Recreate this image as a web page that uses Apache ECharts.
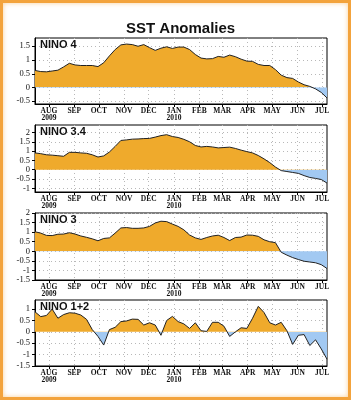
<!DOCTYPE html>
<html>
<head>
<meta charset="utf-8">
<title>SST Anomalies</title>
<style>
  html, body { margin: 0; padding: 0; background: #fff; }
  #container { width: 353px; height: 403px; }
  #frame {
    position: absolute; left: 0; top: 0; width: 351px; height: 400px;
    box-sizing: border-box; border: 3px solid #F3A33C;
    box-shadow: inset 0 0 5px rgba(245, 170, 70, 0.55);
    pointer-events: none;
  }
</style>
</head>
<body>
<div id="container"></div>
<div id="frame"></div>
<script src="https://cdn.jsdelivr.net/npm/echarts@6.0.0/dist/echarts.min.js"></script>
<script>
// weekly values, centred on Wednesdays
var weeks = [
  '2009-07-15','2009-07-22','2009-07-29','2009-08-05','2009-08-12','2009-08-19','2009-08-26',
  '2009-09-02','2009-09-09','2009-09-16','2009-09-23','2009-09-30','2009-10-07','2009-10-14',
  '2009-10-21','2009-10-28','2009-11-04','2009-11-11','2009-11-18','2009-11-25','2009-12-02',
  '2009-12-09','2009-12-16','2009-12-23','2009-12-30','2010-01-06','2010-01-13','2010-01-20',
  '2010-01-27','2010-02-03','2010-02-10','2010-02-17','2010-02-24','2010-03-03','2010-03-10',
  '2010-03-17','2010-03-24','2010-03-31','2010-04-07','2010-04-14','2010-04-21','2010-04-28',
  '2010-05-05','2010-05-12','2010-05-19','2010-05-26','2010-06-02','2010-06-09','2010-06-16',
  '2010-06-23','2010-06-30','2010-07-07'
];
var nino4 = [0.62,0.58,0.57,0.60,0.63,0.75,0.88,0.82,0.80,0.80,
  0.80,0.76,0.90,1.15,1.38,1.55,1.58,1.56,1.50,1.56,
  1.45,1.35,1.43,1.48,1.42,1.47,1.47,1.38,1.20,1.07,
  1.04,1.05,1.13,1.10,1.18,1.12,1.03,0.96,0.95,0.84,
  0.80,0.80,0.65,0.45,0.36,0.33,0.20,0.10,0.04,-0.05,
  -0.18,-0.38];
var nino34 = [0.90,0.86,0.80,0.78,0.75,0.72,0.93,0.93,0.90,0.88,
  0.80,0.68,0.74,0.95,1.25,1.57,1.60,1.64,1.65,1.67,
  1.68,1.75,1.83,1.88,1.78,1.73,1.63,1.50,1.30,1.22,
  1.25,1.22,1.17,1.19,1.21,1.14,1.05,0.97,0.90,0.76,
  0.58,0.38,0.14,-0.05,-0.10,-0.15,-0.20,-0.32,-0.42,-0.47,
  -0.53,-0.72];
var nino3 = [1.02,0.95,0.83,0.82,0.89,0.90,0.97,0.90,0.80,0.73,
  0.65,0.55,0.67,0.70,0.95,1.22,1.24,1.20,1.20,1.22,
  1.30,1.48,1.57,1.55,1.42,1.30,1.12,0.85,0.70,0.62,
  0.72,0.80,0.84,0.72,0.56,0.72,0.74,0.85,0.84,0.78,
  0.60,0.50,0.45,-0.05,-0.20,-0.33,-0.43,-0.52,-0.56,-0.60,
  -0.70,-0.90];
var nino12 = [0.88,0.67,0.72,1.00,0.60,0.76,0.84,0.82,0.74,0.55,
  0.10,-0.20,-0.58,0.10,0.20,0.45,0.48,0.56,0.55,0.30,
  0.40,0.30,-0.15,0.50,0.68,0.45,0.35,0.15,0.40,0.05,
  0.02,0.42,0.42,0.25,-0.20,0.00,0.18,0.15,0.60,1.12,
  0.85,0.40,0.30,0.42,0.05,-0.55,-0.15,-0.12,-0.60,-0.35,
  -0.75,-1.20];

var monthStarts = ['2009-08-01','2009-09-01','2009-10-01','2009-11-01','2009-12-01','2010-01-01',
  '2010-02-01','2010-03-01','2010-04-01','2010-05-01','2010-06-01','2010-07-01'];
var monthLabels = ['AUG\n2009','SEP','OCT','NOV','DEC','JAN\n2010','FEB','MAR','APR','MAY','JUN','JUL'];

var panelNames = ['NINO 4', 'NINO 3.4', 'NINO 3', 'NINO 1+2'];
var panelData = [nino4, nino34, nino3, nino12];
var yTicks = [
  [-0.5, 0, 0.5, 1, 1.5],
  [-1, -0.5, 0, 0.5, 1, 1.5, 2],
  [-1.5, -1, -0.5, 0, 0.5, 1, 1.5, 2],
  [-1.5, -1, -0.5, 0, 0.5, 1]
];
var yRange = [[-0.6, 1.8], [-1.2, 2.4], [-1.5, 2], [-1.5, 1.4]];

var plotTops = [38, 125, 213, 300];
var plotHeights = [66, 67, 67, 66];
var plotLeft = 35, plotWidth = 292;
var WARM = '#EFAA2C', COLD = '#A2C9F2';

function dayOf(s) {
  var p = s.split('-');
  return Math.round((Date.UTC(+p[0], +p[1] - 1, +p[2]) - Date.UTC(2009, 6, 15)) / 864e5);
}
var xDays = weeks.map(dayOf);
var tickDays = monthStarts.map(dayOf);
var lastDay = xDays[xDays.length - 1];
var labelFont = 'Liberation Sans Narrow';

var grids = [], xAxes = [], yAxes = [], series = [];
var titles = [{
  text: 'SST Anomalies', left: 126, top: 21, padding: 0,
  textStyle: { fontSize: 15, fontWeight: 'bold', fontFamily: 'Liberation Sans', color: '#111' }
}];

function makePanel(i) {
  var top = plotTops[i], h = plotHeights[i];
  var lo = yRange[i][0], hi = yRange[i][1];
  var f = hi / (hi - lo);   // where zero sits, from the top of the plot
  var vals = panelData[i];
  grids.push({ left: plotLeft, top: top, width: plotWidth, height: h,
    show: true, borderColor: '#000', borderWidth: 1, backgroundColor: '#fff' });
  xAxes.push({
    type: 'value', gridIndex: i, min: 0, max: lastDay,
    axisLine: { show: true, onZero: false, lineStyle: { color: '#000', width: 1 } },
    axisTick: { show: true, customValues: tickDays, length: 3, lineStyle: { color: '#000' } },
    axisLabel: {
      customValues: tickDays, margin: 4, fontSize: 7.5, lineHeight: 7,
      fontFamily: labelFont, fontWeight: 'bold', color: '#111',
      formatter: function (v) { return monthLabels[tickDays.indexOf(Math.round(v))] || ''; }
    },
    splitLine: { show: true, lineStyle: { color: '#b8b8b8', width: 1, type: [1, 3] } }
  });
  yAxes.push({
    type: 'value', gridIndex: i, min: lo, max: hi,
    axisLine: { show: true, lineStyle: { color: '#000', width: 1 } },
    axisTick: { show: true, customValues: yTicks[i], length: 3, lineStyle: { color: '#000' } },
    axisLabel: { customValues: yTicks[i], margin: 5, fontSize: 8.5, fontFamily: labelFont,
      color: '#111', formatter: function (v) { return String(Math.round(v * 10) / 10); } },
    splitLine: { show: true, lineStyle: { color: '#b8b8b8', width: 1, type: [1, 3] } }
  });
  series.push({
    type: 'line', xAxisIndex: i, yAxisIndex: i,
    data: xDays.map(function (d, k) { return [d, vals[k]]; }),
    showSymbol: false, symbol: 'none', silent: true,
    lineStyle: { color: '#222', width: 1 },
    areaStyle: {
      opacity: 1,
      color: { type: 'linear', x: 0, y: top, x2: 0, y2: top + h, global: true,
        colorStops: [
          { offset: 0, color: WARM }, { offset: f, color: WARM },
          { offset: f, color: COLD }, { offset: 1, color: COLD }
        ] }
    }
  });
  titles.push({
    text: panelNames[i], left: 40, top: top + 1, padding: 0,
    textStyle: { fontSize: 11, fontWeight: 'bold', fontFamily: 'Liberation Sans', color: '#111' }
  });
}
for (var i = 0; i < 4; i++) makePanel(i);

var myChart = echarts.init(document.getElementById('container'));
myChart.setOption({
  animation: false,
  backgroundColor: '#fff',
  title: titles,
  grid: grids,
  xAxis: xAxes,
  yAxis: yAxes,
  series: series
});
</script>
</body>
</html>
